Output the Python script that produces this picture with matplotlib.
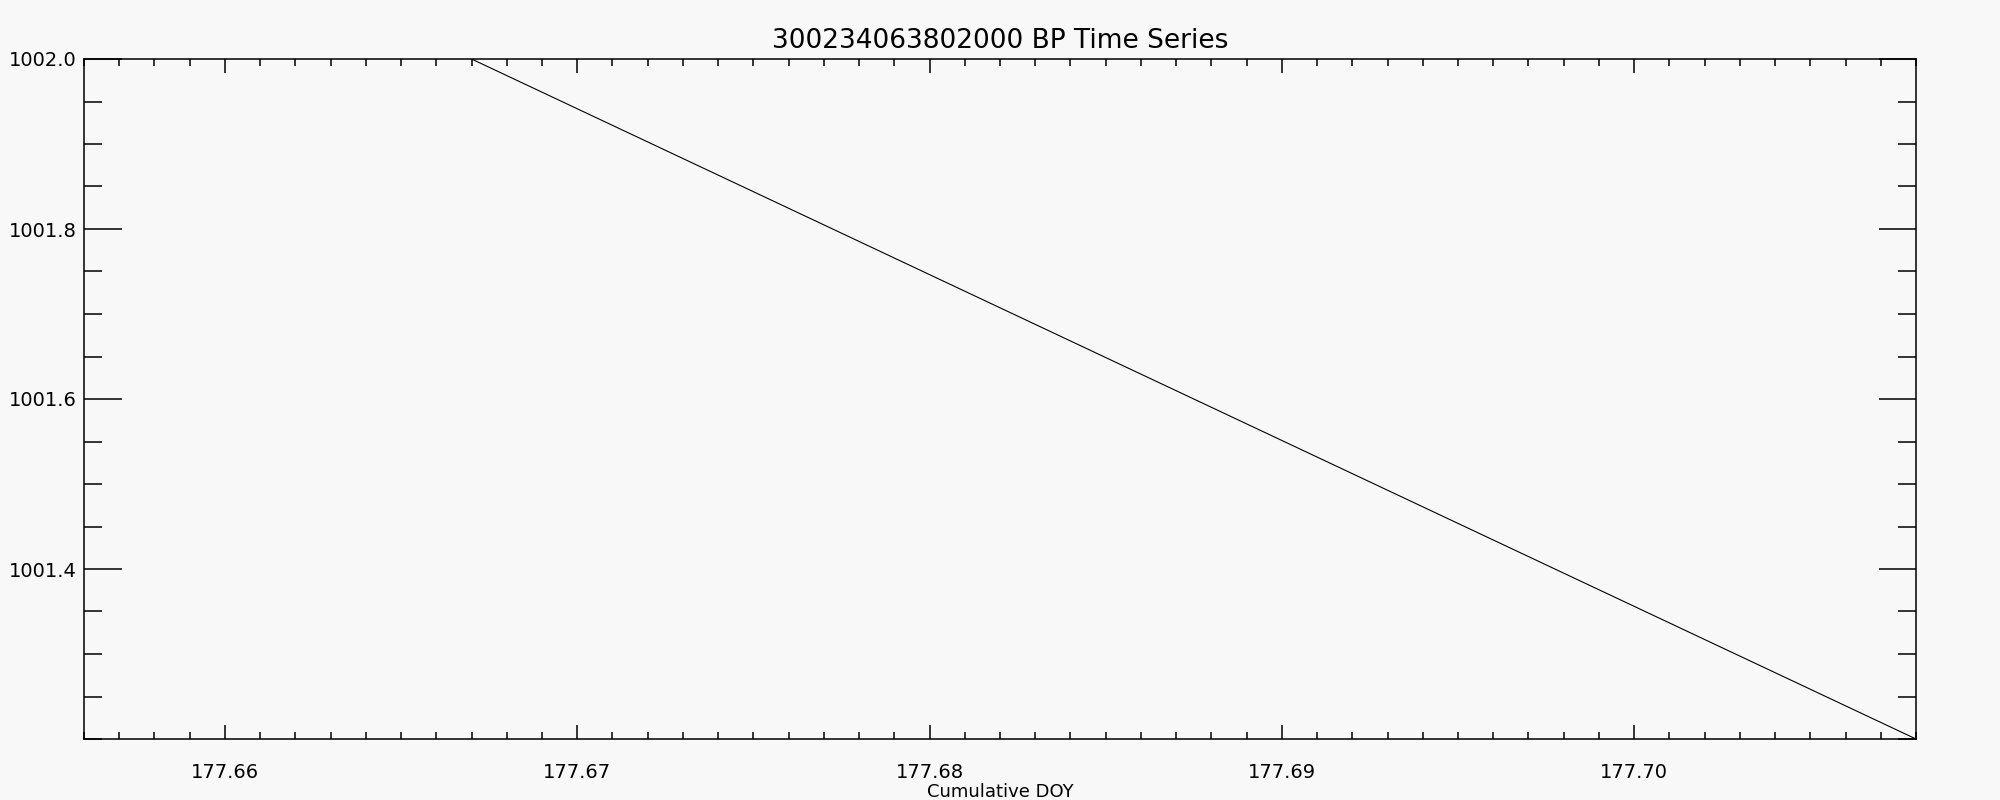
import matplotlib.pyplot as plt
from matplotlib.ticker import MultipleLocator, FixedLocator

# data
doy = [177.667, 177.708]
bp = [1002.0, 1001.2]

x_ticks = [177.66, 177.67, 177.68, 177.69, 177.70]
x_labels = ['177.66', '177.67', '177.68', '177.69', '177.70']
y_ticks = [1001.4, 1001.6, 1001.8, 1002.0]
y_labels = ['1001.4', '1001.6', '1001.8', '1002.0']

bg = '#f8f8f8'
fig = plt.figure(figsize=(20, 8), dpi=100, facecolor=bg)
ax = fig.add_axes([0.042, 0.07625, 0.916, 0.85], facecolor=bg)

ax.plot(doy, bp, color='black', lw=0.8)

ax.set_xlim(177.656, 177.708)
ax.set_ylim(1001.2, 1002.0)

ax.xaxis.set_major_locator(FixedLocator(x_ticks))
ax.set_xticklabels(x_labels)
ax.xaxis.set_minor_locator(MultipleLocator(0.001))
ax.yaxis.set_major_locator(FixedLocator(y_ticks))
ax.set_yticklabels(y_labels)
ax.yaxis.set_minor_locator(MultipleLocator(0.05))

ax.tick_params(axis='both', which='both', direction='in', top=True, right=True,
               color='black', width=1.1)
ax.tick_params(axis='x', which='major', length=10, pad=17, labelsize=14)
ax.tick_params(axis='x', which='minor', length=5)
ax.tick_params(axis='y', which='major', length=27, pad=5, labelsize=14)
ax.tick_params(axis='y', which='minor', length=13)

for s in ax.spines.values():
    s.set_linewidth(1.1)

ax.set_title('300234063802000 BP Time Series', fontsize=19, pad=8)
ax.set_xlabel('Cumulative DOY', fontsize=13, labelpad=1)

plt.savefig('out.png', facecolor=bg)
